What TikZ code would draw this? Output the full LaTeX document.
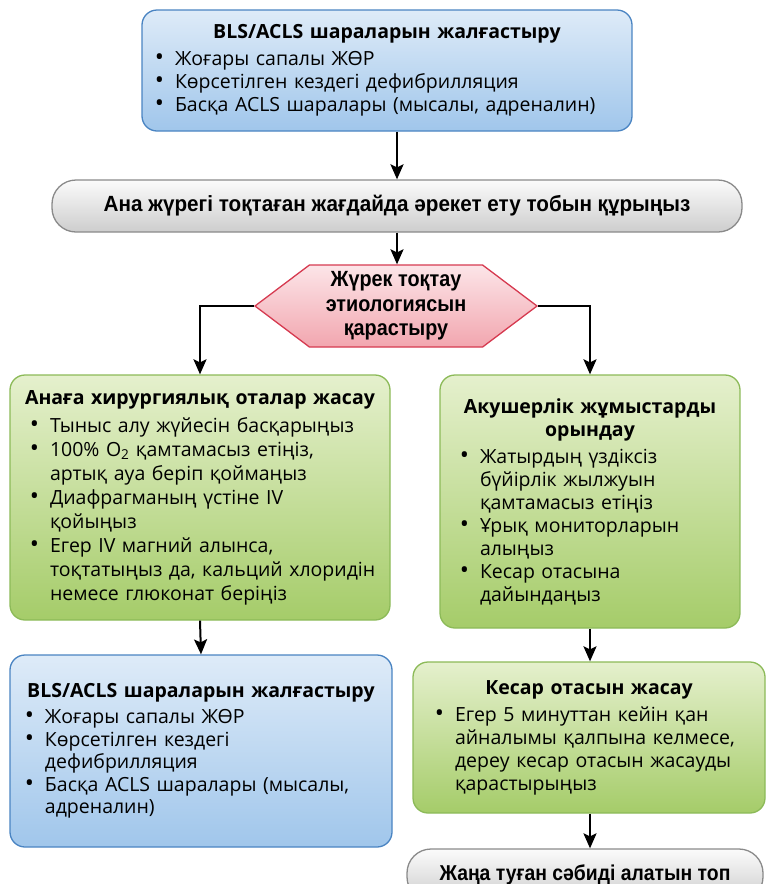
\documentclass[tikz,border=0pt]{standalone}
\usepackage{fontspec}
\usepackage{graphicx}
\setmainfont{Open Sans}
\newfontfamily\narrowfont[FakeStretch=0.9]{Liberation Sans}
\newfontfamily\pillfont[FakeStretch=0.94]{Liberation Sans}
\usetikzlibrary{arrows.meta,shapes.symbols}
\definecolor{bluetop}{HTML}{DEEBF8}
\definecolor{bluebot}{HTML}{A0C6EB}
\definecolor{blueline}{HTML}{4A84C2}
\definecolor{greentop}{HTML}{E5F0CD}
\definecolor{greenbot}{HTML}{A5CC69}
\definecolor{greenline}{HTML}{8CBA58}
\definecolor{greytop}{HTML}{FBFBFB}
\definecolor{greybot}{HTML}{CDCDCD}
\definecolor{greyline}{HTML}{8A8A8A}
\definecolor{pinktop}{HTML}{FCE5E8}
\definecolor{pinkbot}{HTML}{F2A6AF}
\definecolor{pinkline}{HTML}{D63A50}
\newlength\bulw
\setlength\bulw{18pt}
\newcommand\bul[1]{\par\hangindent=\bulw\hangafter=1\noindent
  \makebox[\bulw][r]{\scalebox{1.25}{\textbullet}\hspace{11pt}}#1\par}
\newcommand\boxtitle[1]{{\centering\bfseries #1\par}\vspace{4pt}}

\begin{document}
\begin{tikzpicture}[
  x=1pt,
  y=-1pt,
  bullet width/.code={\setlength\bulw{#1}},
  card/.style={
    draw,
    line width=1.3pt,
    rounded corners=15pt,
    inner xsep=12pt,
    inner ysep=0pt,
    align=left,
    font=\fontsize{19.5}{23}\selectfont
  },
  bluecard/.style={
    card,
    draw=blueline,
    top color=bluetop,
    bottom color=bluebot
  },
  greencard/.style={
    card,
    draw=greenline,
    top color=greentop,
    bottom color=greenbot
  },
  pill/.style={
    draw=greyline,
    line width=1.3pt,
    rounded corners=24pt,
    top color=greytop,
    bottom color=greybot,
    inner sep=0pt,
    font=\pillfont\bfseries\fontsize{22}{24}\selectfont
  },
  flow/.style={
    line width=2pt,
    -{Stealth[length=15pt,width=13pt,inset=3pt]}
  }
]
\useasboundingbox (0,0) rectangle (767,884);
\clip (0,0) rectangle (767,884);

\node[
  bluecard,
  minimum width=490pt,
  minimum height=121pt,
  text width=460pt,
  inner xsep=15pt,
  bullet width=18pt
] (a) at (387,70.5) {\boxtitle{BLS/ACLS шараларын жалғастыру}
\bul{Жоғары сапалы ЖӨР}
\bul{Көрсетілген кездегі дефибрилляция}
\bul{Басқа ACLS шаралары (мысалы, адреналин)}};

\node[
  pill,
  minimum width=690pt,
  minimum height=52pt
] (b) at (397,206) {Ана жүрегі тоқтаған жағдайда әрекет ету тобын құрыңыз};

\node[
  signal,
  signal to=west and east,
  signal pointer angle=74,
  draw=pinkline,
  line width=1.3pt,
  top color=pinktop,
  bottom color=pinkbot,
  minimum width=282pt,
  minimum height=82pt,
  inner sep=0pt,
  align=center,
  font=\narrowfont\bfseries\fontsize{22}{24.5}\selectfont
] (c) at (396,306) {Жүрек тоқтау\\этиологиясын\\қарастыру};

\node[
  greencard,
  minimum width=380pt,
  minimum height=245pt,
  text width=352pt,
  inner xsep=14pt,
  bullet width=26pt,
  font=\fontsize{19.5}{24}\selectfont
] (d) at (200,497.5) {\boxtitle{Анаға хирургиялық оталар жасау}
\bul{Тыныс алу жүйесін басқарыңыз}
\bul{100\% O\textsubscript{2} қамтамасыз етіңіз,\newline артық ауа беріп қоймаңыз}
\bul{Диафрагманың үстіне IV\newline қойыңыз}
\bul{Егер IV магний алынса,\newline тоқтатыңыз да, кальций хлоридін\newline немесе глюконат беріңіз}};

\node[
  greencard,
  minimum width=300pt,
  minimum height=253pt,
  text width=276pt,
  bullet width=28pt
] (e) at (590,501.5) {\boxtitle{Акушерлік жұмыстарды\\орындау}
\bul{Жатырдың үздіксіз\newline бүйірлік жылжуын\newline қамтамасыз етіңіз}
\bul{Ұрық мониторларын\newline алыңыз}
\bul{Кесар отасына\newline дайындаңыз}};

\node[
  bluecard,
  minimum width=382pt,
  minimum height=192pt,
  text width=358pt,
  bullet width=23pt,
  font=\fontsize{19.5}{22.5}\selectfont
] (f) at (201,751) {\boxtitle{BLS/ACLS шараларын жалғастыру}
\bul{Жоғары сапалы ЖӨР}
\bul{Көрсетілген кездегі\newline дефибрилляция}
\bul{Басқа ACLS шаралары (мысалы,\newline адреналин)}};

\node[
  greencard,
  minimum width=352pt,
  minimum height=151pt,
  text width=328pt,
  bullet width=30pt
] (g) at (589,737.5) {\boxtitle{Кесар отасын жасау}
\bul{Егер 5 минуттан кейін қан\newline айналымы қалпына келмесе,\newline дереу кесар отасын жасауды\newline қарастырыңыз}};

\node[
  pill,
  minimum width=356pt,
  minimum height=52pt,
  font=\narrowfont\bfseries\fontsize{21.5}{24}\selectfont
] (h) at (585,875) {Жаңа туған сәбиді алатын топ};

\draw[flow] (a.south -| b.center) -- (b.north);
\draw[flow] (b.south) -- (b.south |- c.north);
\draw[flow] (c.west) -| (d.north);
\draw[flow] (c.east) -| (e.north);
\draw[flow] (d.south) -- (f.north);
\draw[flow] (e.south) -- (e.south |- g.north);
\draw[flow] (g.south -| e.south) -- (h.north -| e.south);
\end{tikzpicture}
\end{document}
